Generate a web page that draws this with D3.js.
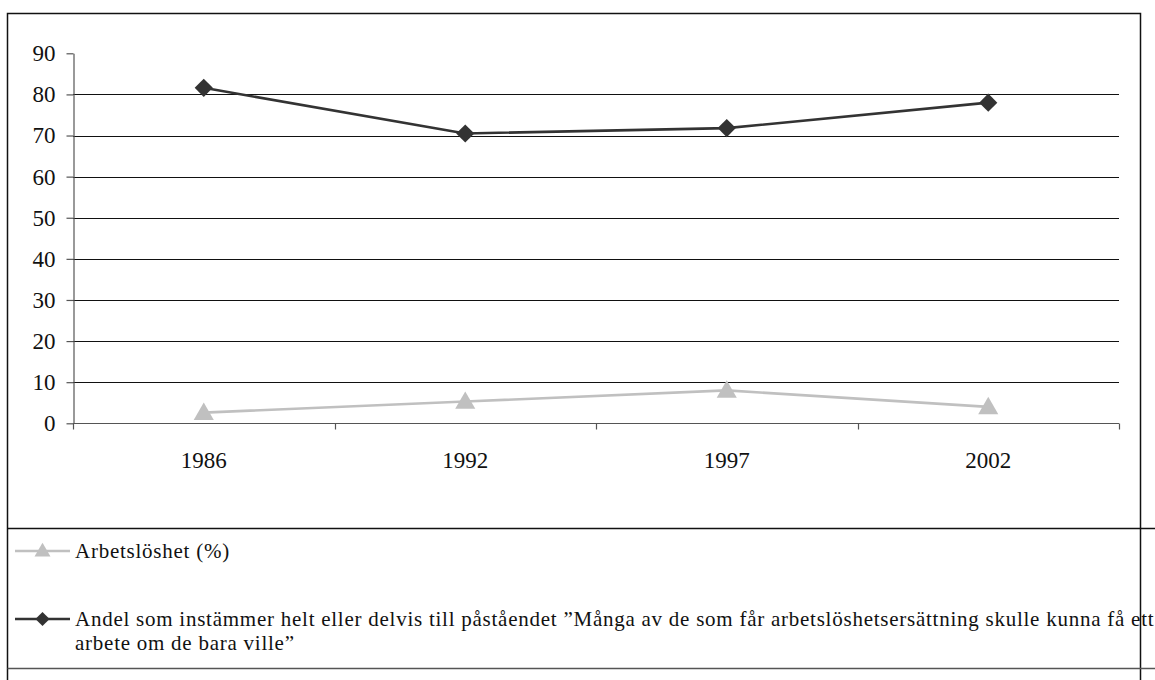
<!DOCTYPE html>
<html lang="sv">
<head>
    <meta charset="UTF-8">
    <title>Arbetslöshet och attityder</title>
    <script src="https://cdn.jsdelivr.net/npm/d3@7/dist/d3.min.js"></script>
    <style>
        body{
            margin: 0;
            background: white;
        }
        svg{
            display: block;
            font-family: "Liberation Serif", "DejaVu Serif", serif;
        }
        .yAxis text, .xAxis text{
            font-size: 23px;
            fill: #111;
        }
        .legend text{
            font-size: 21px;
            letter-spacing: 0.75px;
            fill: #111;
        }
    </style>
</head>
<body>
<svg id="main" width="1155" height="680"></svg>
<script>
    // data
    const years = ["1986", "1992", "1997", "2002"];
    const arbetsloshet = [2.6, 5.3, 8.0, 4.0];
    const andel = [81.6, 70.5, 71.8, 78.0];
    const yTicks = [0, 10, 20, 30, 40, 50, 60, 70, 80, 90];
    const legendLabels = [
        ["Arbetslöshet (%)"],
        ["Andel som instämmer helt eller delvis till påståendet ”Många av de som får arbetslöshetsersättning skulle kunna få ett",
         "arbete om de bara ville”"]
    ];

    const width = 1155, height = 680;
    const plot = {left: 73, right: 1119, top: 53.3, bottom: 423.3};

    const svg = d3.select("svg#main");

    // frame
    svg.append("path")
        .attr("d", `M7.5,${height} V13.5 H1140.5 V${height}`)
        .attr("fill", "none")
        .attr("stroke", "#111")
        .attr("stroke-width", 1.5);
    svg.selectAll(".sep")
        .data([528.5, 668.5])
        .join("line")
        .attr("class", "sep")
        .attr("x1", 7.5).attr("x2", width)
        .attr("y1", d => d).attr("y2", d => d)
        .attr("stroke", (d, i) => i ? "#555" : "#111")
        .attr("stroke-width", 1.5);

    const xScale = d3.scaleBand()
        .domain(years)
        .range([plot.left, plot.right]);
    const yScale = d3.scaleLinear()
        .domain([0, 90])
        .range([plot.bottom, plot.top]);

    // gridlines
    svg.append("g")
        .selectAll("line")
        .data(yTicks.filter(d => d > 0 && d < 90))
        .join("line")
        .attr("x1", plot.left).attr("x2", plot.right)
        .attr("y1", d => Math.round(yScale(d)) + 0.5)
        .attr("y2", d => Math.round(yScale(d)) + 0.5)
        .attr("stroke", "#111")
        .attr("stroke-width", 1);

    // y axis
    const yAxis = svg.append("g")
        .attr("class", "yAxis")
        .attr("transform", `translate(${plot.left + 0.5},0)`)
        .call(d3.axisLeft(yScale).tickValues(yTicks).tickSize(7).tickPadding(11).tickSizeOuter(0));
    yAxis.attr("font-family", null).attr("font-size", null);
    yAxis.selectAll("path, line").attr("stroke", "#555").attr("stroke-width", 1.2);

    // x axis with ticks on band edges
    const xAxis = svg.append("g")
        .attr("class", "xAxis")
        .attr("transform", `translate(0,${Math.round(plot.bottom) + 0.5})`);
    xAxis.append("line")
        .attr("x1", plot.left).attr("x2", plot.right)
        .attr("stroke", "#555").attr("stroke-width", 1.2);
    xAxis.selectAll(".tick")
        .data(years.map(d => xScale(d)).concat([plot.right]))
        .join("line")
        .attr("class", "tick")
        .attr("x1", d => Math.round(d) + 0.5).attr("x2", d => Math.round(d) + 0.5)
        .attr("y1", 0).attr("y2", 6)
        .attr("stroke", "#555").attr("stroke-width", 1.2);
    xAxis.selectAll("text")
        .data(years)
        .join("text")
        .attr("x", d => xScale(d) + xScale.bandwidth() / 2)
        .attr("y", 44)
        .attr("text-anchor", "middle")
        .text(d => d);

    const cx = d => xScale(d) + xScale.bandwidth() / 2;
    const line = d3.line().x((d, i) => cx(years[i])).y(d => yScale(d));

    const diamond = d3.symbol().type(d3.symbolSquare).size(165);
    const triangle = d3.symbol().type(d3.symbolTriangle).size(175);

    // series
    const series = [
        {values: arbetsloshet, color: "#c0c0c0", symbol: triangle, rot: 0},
        {values: andel, color: "#333333", symbol: diamond, rot: 45}
    ];

    series.forEach(s => {
        svg.append("path")
            .datum(s.values)
            .attr("d", line)
            .attr("fill", "none")
            .attr("stroke", s.color)
            .attr("stroke-width", 2.6);
        svg.append("g")
            .selectAll("path")
            .data(s.values)
            .join("path")
            .attr("d", s.symbol)
            .attr("transform", (d, i) => `translate(${cx(years[i])},${yScale(d) + (s.rot ? 0 : 1.5)}) rotate(${s.rot})`)
            .attr("fill", s.color);
    });

    // legend
    const legendY = [551, 619];
    const legendSym = [
        d3.symbol().type(d3.symbolTriangle).size(110),
        d3.symbol().type(d3.symbolSquare).size(100)
    ];
    const legend = svg.append("g").attr("class", "legend");
    series.forEach((s, i) => {
        const g = legend.append("g").attr("transform", `translate(0,${legendY[i]})`);
        g.append("line")
            .attr("x1", 15).attr("x2", 70)
            .attr("stroke", s.color).attr("stroke-width", 2.6);
        g.append("path")
            .attr("d", legendSym[i])
            .attr("transform", `translate(42.5,${s.rot ? 0 : 1}) rotate(${s.rot})`)
            .attr("fill", s.color);
        g.selectAll("text")
            .data(legendLabels[i])
            .join("text")
            .attr("x", 75)
            .attr("y", (d, j) => 7 + j * 24)
            .text(d => d);
    });
</script>
</body>
</html>
